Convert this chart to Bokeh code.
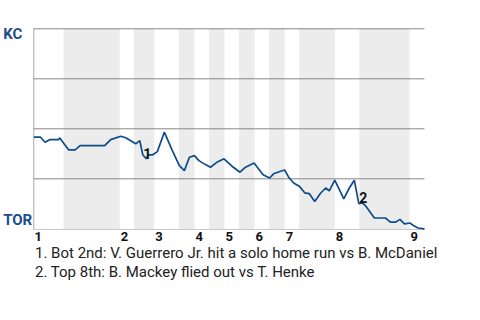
from bokeh.plotting import figure
from bokeh.models import Range1d, ColumnDataSource, LabelSet, Label
from bokeh.core.properties import value
from bokeh.embed import file_html
from bokeh.resources import INLINE

# ---- data (game progress in plays, KC win probability in %) ----
play_x = [0.1, 1.4, 2.3, 3.3, 5.0, 5.2, 7.0, 8.3, 9.3, 14.2, 15.4, 17.4, 18.4,
          20.4, 21.2, 21.8, 22.5, 23.0, 23.8, 24.7, 26.1, 27.7, 29.1, 30.1,
          31.1, 32.1, 33.0, 34.3, 35.3, 36.5, 38.0, 39.6, 41.2, 42.3, 44.0,
          45.8, 47.1, 47.9, 49.3, 50.1, 50.9, 51.9, 53.1, 54.1, 55.0, 56.1,
          57.3, 58.3, 59.0, 60.1, 61.9, 63.0, 64.0, 64.9, 65.6, 66.2, 68.0,
          70.2, 71.2, 72.2, 73.1, 74.0, 75.1, 75.8, 76.7, 78.0]
kc_win = [45.8, 45.8, 43.3, 44.6, 44.6, 45.5, 39.5, 39.5, 41.6, 41.6, 44.6, 46.3,
          45.5, 42.5, 44.1, 37.0, 35.0, 37.0, 37.0, 38.6, 48.3, 39.1, 31.6,
          29.1, 35.8, 36.6, 34.1, 32.1, 30.8, 33.1, 35.0, 31.3, 28.3, 30.8,
          32.9, 27.0, 25.4, 27.5, 28.8, 29.4, 25.8, 22.9, 21.1, 18.0, 17.6,
          13.6, 17.9, 20.4, 19.0, 24.3, 15.0, 20.4, 24.3, 12.6, 13.0, 11.6,
          5.4, 5.4, 3.3, 3.3, 4.7, 2.5, 2.9, 1.6, 0.4, 0.0]

band_start = [6.0, 20.0, 29.0, 35.0, 41.0, 47.0, 53.0, 65.0]
band_end = [17.2, 24.1, 32.1, 38.1, 44.1, 50.1, 60.1, 75.0]

inning_start = [0.0, 17.2, 24.1, 32.1, 38.1, 44.1, 50.1, 60.1, 75.0]
inning_labels = ["1", "2", "3", "4", "5", "6", "7", "8", "9"]

grid_levels = [25, 50, 75, 100]

team_labels = ["KC", "TOR"]
team_levels = [97.5, 4.5]

note_x = [22.5, 65.6]
note_p = [35.0, 13.0]
note_labels = ["1", "2"]
notes = ["1. Bot 2nd: V. Guerrero Jr. hit a solo home run vs B. McDaniel",
         "2. Top 8th: B. Mackey flied out vs T. Henke"]

BLUE = "#0E4A8C"
LABEL_BLUE = "#1B4C8C"
X_END = 78.0
FONT = value("Roboto")

# The frame fills the whole canvas; the chart area is the region 0..78 x 0..100
p = figure(width=480, height=320, output_backend="svg", toolbar_location=None,
           x_axis_location=None, y_axis_location=None,
           x_range=Range1d(-6.583, 89.172), y_range=Range1d(-45.85, 114.15),
           min_border=0)
p.outline_line_color = None
p.xgrid.visible = False
p.ygrid.visible = False
p.background_fill_color = "white"
p.border_fill_color = "white"

# bottom-half shading
p.quad(left=band_start, right=band_end, bottom=-0.35, top=100,
       fill_color="#ececec", line_color=None)

# frame lines
p.segment(x0=[0], x1=[X_END], y0=[-0.35], y1=[-0.35],
          line_color="#c8c8c8", line_width=1)
p.segment(x0=[0.05], x1=[0.05], y0=[-0.35], y1=[100],
          line_color="#aaaaaa", line_width=1)
p.segment(x0=[0] * len(grid_levels), x1=[X_END] * len(grid_levels),
          y0=grid_levels, y1=grid_levels, line_color="#888888", line_width=1)

# win probability line
p.line(play_x, kc_win, line_color=BLUE, line_width=1.7)

# play markers
msrc = ColumnDataSource(dict(x=note_x, y=note_p, t=note_labels))
p.add_layout(LabelSet(x="x", y="y", text="t", source=msrc, x_offset=1,
                      text_align="center", text_baseline="alphabetic",
                      text_font=FONT, text_font_style="bold",
                      text_font_size="14px", text_color="#111111"))

# inning labels
isrc = ColumnDataSource(dict(x=inning_start, y=[-3.9] * len(inning_start),
                             t=inning_labels))
p.add_layout(LabelSet(x="x", y="y", text="t", source=isrc, x_offset=1,
                      text_align="left", text_baseline="middle",
                      text_font=FONT, text_font_style="bold",
                      text_font_size="13px", text_color="#111111"))

# team labels
tsrc = ColumnDataSource(dict(x=[-6.05] * 2, y=team_levels, t=team_labels))
p.add_layout(LabelSet(x="x", y="y", text="t", source=tsrc,
                      text_align="left", text_baseline="middle",
                      text_font=FONT, text_font_style="bold",
                      text_font_size="15px", text_color=LABEL_BLUE))

# footnotes
for i, n in enumerate(notes):
    p.add_layout(Label(x=0.3, y=-11.9 - 9.5 * i, text=n, text_align="left",
                       text_baseline="middle", text_font="Roboto",
                       text_font_size="15px", text_color="#222222"))

open("out.html", "w").write(file_html(p, INLINE))
